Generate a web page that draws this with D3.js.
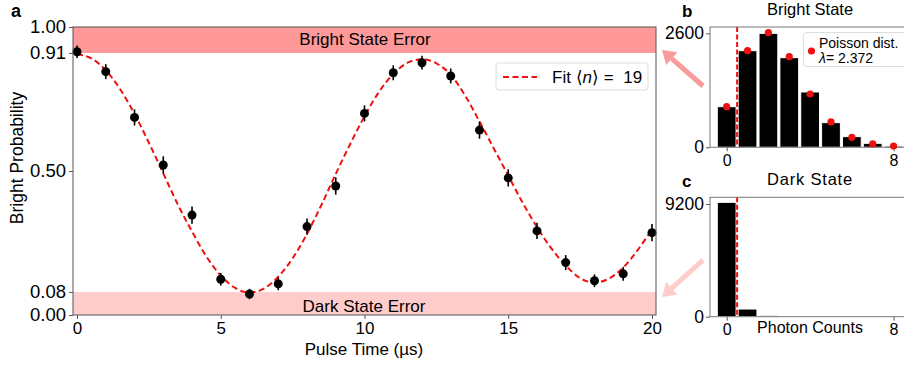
<!DOCTYPE html>
<html>
<head>
<meta charset="utf-8">
<script src="https://cdn.jsdelivr.net/npm/d3@7"></script>
<style>
  body { margin: 0; background: #fff; }
  text { font-family: "Liberation Sans", Arial, sans-serif; fill: #000; }
</style>
</head>
<body>
<div id="chart"></div>
<script>
var width = 904,
    height = 368;

// panel a : measured points
var pulseTimes = [0, 1, 2, 3, 4, 5, 6, 7, 8, 9, 10, 11, 12, 13, 14, 15, 16, 17, 18, 19, 20];
var brightProb = [0.914, 0.845, 0.686, 0.521, 0.347, 0.124, 0.073, 0.108, 0.307, 0.448, 0.700,
                  0.841, 0.876, 0.830, 0.642, 0.476, 0.292, 0.182, 0.119, 0.143, 0.286];
var probErr = [0.022, 0.026, 0.028, 0.030, 0.030, 0.022, 0.018, 0.022, 0.028, 0.030, 0.028,
               0.026, 0.024, 0.026, 0.030, 0.030, 0.028, 0.026, 0.022, 0.024, 0.030];

// panel a : fit curve
var fitTimes = [0, 0.5, 1, 1.5, 2, 2.5, 3, 3.5, 4, 4.5, 5, 5.5, 6, 6.5, 7, 7.5, 8, 8.5, 9, 9.5, 10,
                10.5, 11, 11.5, 12, 12.5, 13, 13.5, 14, 14.5, 15, 15.5, 16, 16.5, 17, 17.5, 18, 18.5, 19, 19.5, 20];
var fitValues = [0.905, 0.891, 0.850, 0.784, 0.698, 0.598, 0.492, 0.385, 0.290, 0.203, 0.137, 0.094, 0.078,
                 0.092, 0.133, 0.197, 0.282, 0.382, 0.490, 0.593, 0.690, 0.774, 0.837, 0.876, 0.888,
                 0.874, 0.834, 0.762, 0.672, 0.578, 0.484, 0.390, 0.305, 0.231, 0.172, 0.128, 0.113,
                 0.126, 0.165, 0.225, 0.297];
var yTicksA = [0, 0.08, 0.5, 0.91, 1];
var xTicksA = [0, 5, 10, 15, 20];

// panels b and c : photon count histograms
var photonCounts = [0, 1, 2, 3, 4, 5, 6, 7, 8];
var brightCounts = [927, 2205, 2600, 2045, 1262, 563, 243, 91, 30];
var poissonFit = [927, 2205, 2616, 2068, 1216, 578, 228, 76, 30];
var darkCounts = [9336, 626, 109, 25, 10, 5, 2, 1, 0];

var svg = d3.select("#chart").append("svg")
    .attr("width", width)
    .attr("height", height);

var spine = "#555";

// ---------------- panel a ----------------
var x = d3.scaleLinear().domain([-0.14, 20.14]).range([73, 656]);
var y = d3.scaleLinear().domain([0, 1]).range([315, 27]);

// error bands
svg.append("rect")
    .attr("x", x.range()[0]).attr("width", x.range()[1] - x.range()[0])
    .attr("y", y(1)).attr("height", y(0.91) - y(1))
    .attr("fill", "#ff9999");
svg.append("rect")
    .attr("x", x.range()[0]).attr("width", x.range()[1] - x.range()[0])
    .attr("y", y(0.08)).attr("height", y(0) - y(0.08))
    .attr("fill", "#ffcccc");

svg.append("text")
    .attr("x", 365).attr("y", 45)
    .attr("text-anchor", "middle")
    .attr("font-size", "17px")
    .text("Bright State Error");
svg.append("text")
    .attr("x", 364).attr("y", 311.5)
    .attr("text-anchor", "middle")
    .attr("font-size", "17px")
    .text("Dark State Error");

// fit
var line = d3.line()
    .x(function(d, i) { return x(fitTimes[i]); })
    .y(function(d) { return y(d); })
    .curve(d3.curveMonotoneX);

svg.append("path")
    .datum(fitValues)
    .attr("d", line)
    .attr("fill", "none")
    .attr("stroke", "#ee1111")
    .attr("stroke-width", 2)
    .attr("stroke-dasharray", "6,3.5");

// error bars + points
svg.selectAll(".err")
    .data(brightProb)
  .enter().append("line")
    .attr("class", "err")
    .attr("x1", function(d, i) { return x(pulseTimes[i]); })
    .attr("x2", function(d, i) { return x(pulseTimes[i]); })
    .attr("y1", function(d, i) { return y(d - probErr[i]); })
    .attr("y2", function(d, i) { return y(d + probErr[i]); })
    .attr("stroke", "#000")
    .attr("stroke-width", 1.6);

svg.selectAll(".pt")
    .data(brightProb)
  .enter().append("circle")
    .attr("class", "pt")
    .attr("cx", function(d, i) { return x(pulseTimes[i]); })
    .attr("cy", function(d) { return y(d); })
    .attr("r", 4.5)
    .attr("fill", "#000");

// axes
var yAxisA = svg.append("g")
    .attr("transform", "translate(" + x.range()[0] + ",0)")
    .call(d3.axisLeft(y).tickValues(yTicksA).tickFormat(d3.format(".2f")).tickSize(4).tickPadding(3));
var xAxisA = svg.append("g")
    .attr("transform", "translate(0," + y.range()[0] + ")")
    .call(d3.axisBottom(x).tickValues(xTicksA).tickSize(4).tickPadding(3));
[yAxisA, xAxisA].forEach(function(g) {
  g.select(".domain").remove();
  g.selectAll("line").attr("stroke", spine);
  g.selectAll("text").attr("font-size", "17px").attr("font-family", "Liberation Sans, Arial, sans-serif");
});
yAxisA.selectAll("text").attr("font-size", "18.5px");

svg.append("rect")
    .attr("x", x.range()[0]).attr("y", y.range()[1])
    .attr("width", x.range()[1] - x.range()[0])
    .attr("height", y.range()[0] - y.range()[1])
    .attr("fill", "none")
    .attr("stroke", spine)
    .attr("stroke-width", 1);

svg.append("text")
    .attr("transform", "translate(23,158) rotate(-90)")
    .attr("text-anchor", "middle")
    .attr("font-size", "17.5px")
    .text("Bright Probability");
svg.append("text")
    .attr("x", 364).attr("y", 355)
    .attr("text-anchor", "middle")
    .attr("font-size", "17px")
    .text("Pulse Time (\u00b5s)");
svg.append("text")
    .attr("x", 11).attr("y", 17)
    .attr("font-size", "18px")
    .attr("font-weight", "bold")
    .text("a");

// legend a
svg.append("rect")
    .attr("x", 496).attr("y", 63).attr("width", 152).attr("height", 27)
    .attr("rx", 3)
    .attr("fill", "#fff")
    .attr("stroke", "#ddd");
svg.append("line")
    .attr("x1", 503).attr("x2", 537).attr("y1", 77).attr("y2", 77)
    .attr("stroke", "#ee1111")
    .attr("stroke-width", 2)
    .attr("stroke-dasharray", "6,3.5");
var leg = svg.append("text")
    .attr("x", 552).attr("y", 83)
    .attr("font-size", "17px");
leg.append("tspan").text("Fit \u27e8");
leg.append("tspan").attr("font-style", "italic").text("n");
leg.append("tspan").text("\u27e9 =\u00a0 19");

// ---------------- panels b and c ----------------
var xb = d3.scaleLinear().domain([-0.8, 8.5]).range([710, 904]);

function histPanel(top, bottom, ymax, counts, tickTop, title, letter) {
  var yh = d3.scaleLinear().domain([0, ymax]).range([bottom, top]);
  var g = svg.append("g");

  g.selectAll(".bar")
      .data(counts)
    .enter().append("rect")
      .attr("x", function(d, i) { return xb(photonCounts[i] - 0.45); })
      .attr("width", xb(0.9) - xb(0))
      .attr("y", function(d) { return yh(d); })
      .attr("height", function(d) { return yh(0) - yh(d); })
      .attr("fill", "#000")
      .attr("stroke", "#fff")
      .attr("stroke-width", 1);

  g.append("line")
      .attr("x1", xb(0.5)).attr("x2", xb(0.5))
      .attr("y1", top).attr("y2", bottom)
      .attr("stroke", "#ee1111")
      .attr("stroke-width", 2)
      .attr("stroke-dasharray", "5,2.5");

  var ya = g.append("g")
      .attr("transform", "translate(710,0)")
      .call(d3.axisLeft(yh).tickValues([0, tickTop]).tickFormat(d3.format("d")).tickSize(4).tickPadding(2));
  var xa = g.append("g")
      .attr("transform", "translate(0," + bottom + ")")
      .call(d3.axisBottom(xb).tickValues([0, 8]).tickSize(4).tickPadding(3));
  [ya, xa].forEach(function(a) {
    a.select(".domain").remove();
    a.selectAll("line").attr("stroke", spine);
    a.selectAll("text").attr("font-size", "16px").attr("font-family", "Liberation Sans, Arial, sans-serif");
  });
  ya.selectAll("text").attr("font-size", "17.5px");

  g.append("rect")
      .attr("x", 710).attr("y", top)
      .attr("width", 196).attr("height", bottom - top)
      .attr("fill", "none")
      .attr("stroke", "#777");

  g.append("text")
      .attr("x", 810).attr("y", top - 12)
      .attr("text-anchor", "middle")
      .attr("font-size", "16.5px")
      .attr("letter-spacing", title === "Dark State" ? "0.8px" : "0px")
      .text(title);
  g.append("text")
      .attr("x", 682).attr("y", top - 10)
      .attr("font-size", "17px")
      .attr("font-weight", "bold")
      .text(letter);
  return yh;
}

var yb = histPanel(27, 147.3, 2745, brightCounts, 2600, "Bright State", "b");
var yc = histPanel(197.3, 316.7, 9747, darkCounts, 9200, "Dark State", "c");

svg.selectAll(".pois")
    .data(poissonFit)
  .enter().append("circle")
    .attr("class", "pois")
    .attr("cx", function(d, i) { return xb(photonCounts[i]); })
    .attr("cy", function(d) { return yb(d); })
    .attr("r", 3.6)
    .attr("fill", "#ee1111");

// legend b
svg.append("rect")
    .attr("x", 803.5).attr("y", 32.5).attr("width", 110).attr("height", 34)
    .attr("rx", 3)
    .attr("fill", "#fff")
    .attr("fill-opacity", 0.85)
    .attr("stroke", "#ddd");
svg.append("circle")
    .attr("cx", 811.5).attr("cy", 51).attr("r", 3.6)
    .attr("fill", "#ee1111");
svg.append("text")
    .attr("x", 819).attr("y", 48)
    .attr("font-size", "14px")
    .text("Poisson dist.");
var lam = svg.append("text")
    .attr("x", 819).attr("y", 63)
    .attr("font-size", "14px");
lam.append("tspan").attr("font-style", "italic").text("\u03bb");
lam.append("tspan").text("= 2.372");

svg.append("text")
    .attr("x", 810).attr("y", 333)
    .attr("text-anchor", "middle")
    .attr("font-size", "16px")
    .text("Photon Counts");

// arrows linking the panels
function arrow(x1, y1, x2, y2, color) {
  var ang = Math.atan2(y2 - y1, x2 - x1),
      len = 13, half = 8.5;
  var bx = x2 - len * Math.cos(ang), by = y2 - len * Math.sin(ang);
  svg.append("line")
      .attr("x1", x1).attr("y1", y1).attr("x2", bx).attr("y2", by)
      .attr("stroke", color)
      .attr("stroke-width", 5);
  svg.append("path")
      .attr("d", "M" + x2 + "," + y2 +
                 "L" + (bx + half * Math.sin(ang)) + "," + (by - half * Math.cos(ang)) +
                 "L" + (bx - half * Math.sin(ang)) + "," + (by + half * Math.cos(ang)) + "Z")
      .attr("fill", color);
}
arrow(703, 86, 662, 50, "#f99b9b");
arrow(703, 260, 662, 297, "#ffcccc");
</script>
</body>
</html>
